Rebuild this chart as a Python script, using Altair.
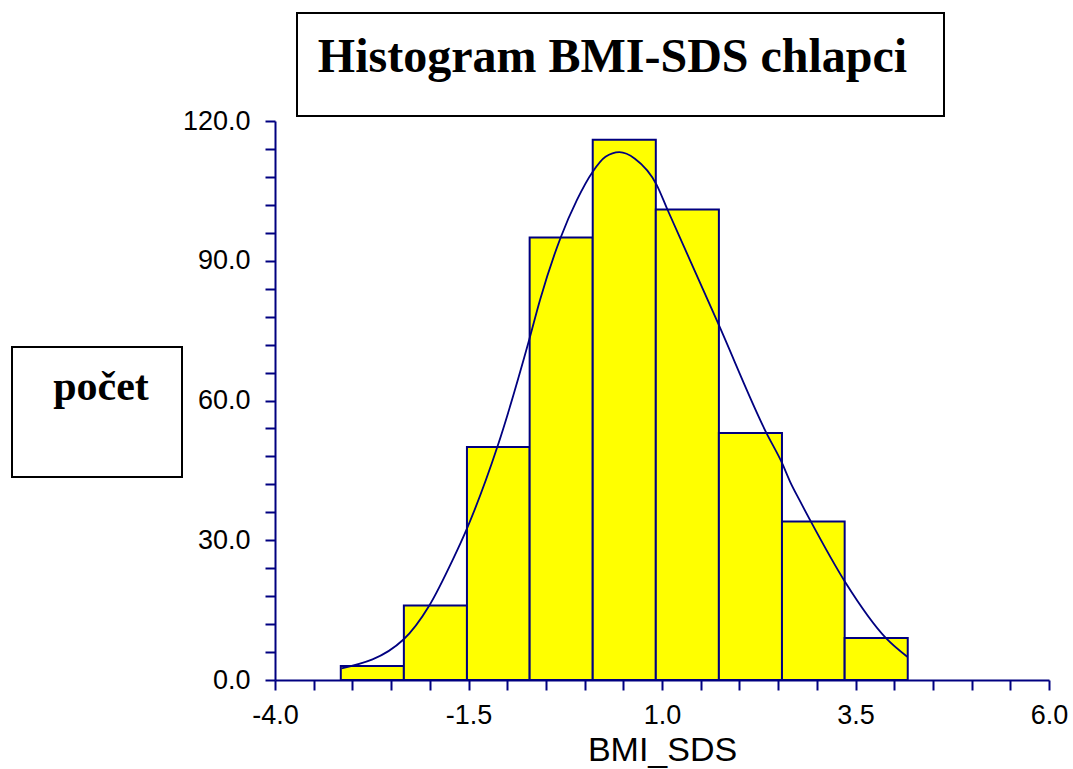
import altair as alt
import pandas as pd

# Histogram bins (BMI_SDS) and counts
bin_start = [-3.15, -2.335, -1.52, -0.71, 0.105, 0.92, 1.735, 2.55, 3.36]
bin_end = [-2.335, -1.52, -0.71, 0.105, 0.92, 1.735, 2.55, 3.36, 4.175]
counts = [3, 16, 50, 95, 116, 101, 53, 34, 9]

# Fitted curve, points
curve_x = [-3.14, -2.34, -2.006, -1.704, -1.523, -1.128, -0.715, -0.576, -0.309,
           -0.1, 0.105, 0.27, 0.449, 0.65, 0.931, 1.07, 1.4, 1.724, 2.35,
           2.553, 2.654, 2.777, 2.924, 3.364, 3.894, 4.169]
curve_y = [2.5, 8.7, 16.0, 25.8, 32.4, 50.0, 73.1, 81.6, 95.0,
           103.0, 109.1, 112.3, 113.3, 111.9, 106.3, 101.0, 88.7, 76.6, 53.0,
           46.5, 42.6, 38.6, 34.0, 21.1, 9.0, 5.0]

x_ticks = [-4.0, -3.5, -3.0, -2.5, -2.0, -1.5, -1.0, -0.5, 0.0, 0.5, 1.0, 1.5, 2.0,
           2.5, 3.0, 3.5, 4.0, 4.5, 5.0, 5.5, 6.0]
y_ticks = [0, 6, 12, 18, 24, 30, 36, 42, 48, 54, 60, 66, 72, 78, 84, 90, 96, 102,
           108, 114, 120]

title_text = "Histogram BMI-SDS chlapci"
y_label_text = "počet"
x_label_text = "BMI_SDS"

NAVY = "#000080"

bars_df = pd.DataFrame({"start": bin_start, "end": bin_end, "count": counts})
curve_df = pd.DataFrame({"x": curve_x, "y": curve_y})

x_scale = alt.Scale(domain=[-4, 6], nice=False, zero=False)
y_scale = alt.Scale(domain=[0, 120], nice=False)

x_axis = alt.Axis(
    values=x_ticks,
    labelExpr="abs((datum.value + 4) / 2.5 - round((datum.value + 4) / 2.5)) < 0.001 ? replace(format(datum.value, '.1f'), '\u2212', '-') : ''",
    title=x_label_text,
    titleFont="Liberation Sans", titleFontSize=34, titleFontWeight="normal",
    titleColor="black", titlePadding=5,
    labelFont="Liberation Sans", labelFontSize=27, labelColor="black",
    labelPadding=12, labelFlush=False, labelOverlap=False,
    domainColor=NAVY, domainWidth=2, tickColor=NAVY, tickWidth=2, tickSize=10,
    grid=False,
)
y_axis = alt.Axis(
    values=y_ticks,
    labelExpr="datum.value % 30 == 0 ? format(datum.value, '.1f') : ''",
    title=None,
    labelFont="Liberation Sans", labelFontSize=27, labelColor="black",
    labelPadding=15, labelFlush=False, labelOverlap=False,
    domainColor=NAVY, domainWidth=2, tickColor=NAVY, tickWidth=2, tickSize=10,
    grid=False,
)

bars = alt.Chart(bars_df).mark_rect(
    fill="#FFFF00", stroke=NAVY, strokeWidth=2
).encode(
    x=alt.X("start:Q", scale=x_scale, axis=x_axis),
    x2="end:Q",
    y=alt.Y("count:Q", scale=y_scale, axis=y_axis),
    y2=alt.datum(0),
)

curve = alt.Chart(curve_df).mark_line(
    color=NAVY, strokeWidth=1.8, interpolate="monotone"
).encode(
    x=alt.X("x:Q", scale=x_scale, axis=x_axis),
    y=alt.Y("y:Q", scale=y_scale, axis=y_axis),
)

one = alt.Data(values=[{"a": 1}])

title_box = alt.Chart(one).mark_rect(
    fill="white", stroke="black", strokeWidth=2
).encode(
    x=alt.value(22), x2=alt.value(669), y=alt.value(-108), y2=alt.value(-5)
)
title_mark = alt.Chart(one).mark_text(
    font="Liberation Serif", fontSize=48, fontWeight="bold", color="black",
    align="center", baseline="alphabetic"
).encode(
    x=alt.value(337.5), y=alt.value(-49), text=alt.value(title_text)
)

ylab_box = alt.Chart(one).mark_rect(
    fill="white", stroke="black", strokeWidth=2
).encode(
    x=alt.value(-263), x2=alt.value(-93), y=alt.value(226), y2=alt.value(356)
)
ylab_mark = alt.Chart(one).mark_text(
    font="Liberation Serif", fontSize=42, fontWeight="bold", color="black",
    align="center", baseline="alphabetic"
).encode(
    x=alt.value(-174), y=alt.value(279), text=alt.value(y_label_text)
)

chart = alt.layer(
    bars, curve, title_box, title_mark, ylab_box, ylab_mark
).properties(
    width=774, height=559,
    autosize=alt.AutoSizeParams(type="none"),
    padding={"left": 275, "top": 121, "right": 24, "bottom": 89},
    background="white",
).configure_view(stroke=None)

chart.save("out.html", embed_options={"renderer": "svg", "actions": False})
